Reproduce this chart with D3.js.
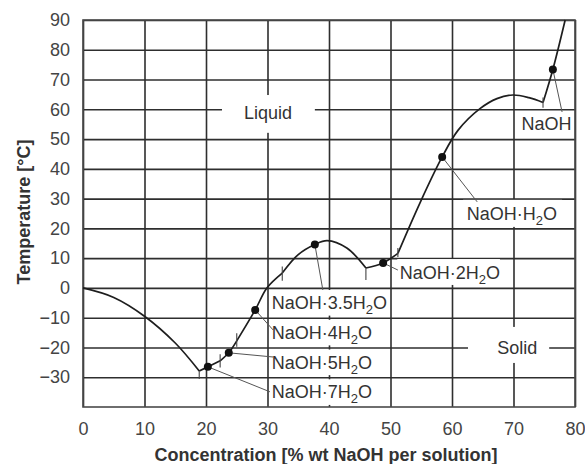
<!DOCTYPE html>
<html>
<head>
<meta charset="utf-8">
<script src="https://cdn.jsdelivr.net/npm/d3@7"></script>
<style>
  body { margin: 0; background: #fff; }
  text { font-family: "Liberation Sans", Arial, sans-serif; }
</style>
</head>
<body>
<svg id="chart" width="585" height="464"></svg>
<script>
// tick labels
const xTicks = [0, 10, 20, 30, 40, 50, 60, 70, 80];
const yTicks = [-30, -20, -10, 0, 10, 20, 30, 40, 50, 60, 70, 80, 90];

// liquidus branches [% NaOH, °C]
const iceBranch = [[0, 0], [5, -3.2], [10, -9.5], [15, -18.5], [18.9, -27.9]];
const hepta = [[18.9, -27.9], [20.3, -26.5], [22.3, -24.5]];
const penta = [[22.3, -24.5], [23.7, -21.8], [25.0, -17.8]];
const tetra = [[25.0, -17.8], [28.0, -7.4], [29.9, 0], [32.4, 5.0]];
const hemi = [[32.4, 5.0], [35.0, 11.2], [37.7, 14.6], [39.7, 15.9], [42.9, 13.4], [46.0, 6.7]];
const di = [[46.0, 6.7], [48.8, 8.4], [51.2, 11.6]];
const mono = [[51.2, 11.6], [54.8, 28.6], [58.4, 44.0], [61.0, 53.0], [64.6, 60.3], [67.3, 63.6], [69.9, 64.8], [72.5, 63.9], [74.8, 62.3]];
const anhydrous = [[74.8, 62.3], [76.4, 73.4], [78.4, 90]];
const branches = [iceBranch, hepta, penta, tetra, hemi, di, mono, anhydrous];

// short transition marks: x, y from, y to
const transitions = [
  [18.9, -27.9, -30.6],
  [22.3, -22.3, -26.7],
  [25.0, -15.2, -19.8],
  [32.4, 2.4, 7.2],
  [46.0, 6.7, 2.7],
  [51.2, 10.4, 13.4],
  [74.8, 60.5, 64.0]
];

// hydrate labels: marker on curve, leader end, label position
const hydrateNames = ["NaOH·7H_2O", "NaOH·5H_2O", "NaOH·4H_2O", "NaOH·3.5H_2O", "NaOH·2H_2O", "NaOH·H_2O", "NaOH"];
const hydrateMarks = [[20.3, -26.5], [23.7, -21.8], [28.0, -7.4], [37.7, 14.6], [48.8, 8.4], [58.4, 44.0], [76.4, 73.4]];
const leaderEnds = [[30.4, -34.9], [30.9, -23.2], [30.9, -14.1], [39.0, -0.7], [51.2, 6.0], [64.1, 28.9], [77.9, 59.1]];
const labelAt = [[30.7, -35], [30.7, -25], [30.7, -15], [30.7, -5], [51.5, 5.2], [62.4, 25], [71.3, 55.3]];
const labelBoxes = [
  [30.4, 49.6, -30.7, -39.3],
  [30.4, 49.6, -20.7, -29.3],
  [30.4, 49.6, -10.7, -19.3],
  [30.4, 49.6, -0.7, -9.3],
  [51.1, 67.8, 9.7, 1.0],
  [61.8, 77.9, 29.6, 20.5],
  null
];

// region labels
const regionNames = ["Liquid", "Solid"];
const regionAt = [[30.1, 58.8], [70.6, -20]];
const regionBoxes = [[22.6, 37.7, 64.8, 52.1], [62.6, 75.8, -13.1, -25.2]];

const svg = d3.select("#chart");
const x = d3.scaleLinear().domain([0, 80]).range([83, 575]);
const y = d3.scaleLinear().domain([-40, 90]).range([407, 20]);
const gridColor = "#2e2e2e";

svg.append("rect").attr("width", 585).attr("height", 464).attr("fill", "#fff");

// grid
const gridY = svg.append("g")
  .attr("transform", `translate(${x(0)},0)`)
  .call(d3.axisLeft(y).tickValues(yTicks).tickSize(-(x(80) - x(0))).tickFormat(""));
gridY.select(".domain").remove();
gridY.selectAll("line").attr("stroke", gridColor).attr("stroke-width", 1.6);

const gridX = svg.append("g")
  .attr("transform", `translate(0,${y(-40)})`)
  .call(d3.axisBottom(x).tickValues(xTicks).tickSize(-(y(-40) - y(90))).tickFormat(""));
gridX.select(".domain").remove();
gridX.selectAll("line").attr("stroke", gridColor).attr("stroke-width", 1.6);

// white patches behind labels
const boxes = labelBoxes.filter(b => b).concat(regionBoxes);
svg.append("g").selectAll("rect")
  .data(boxes)
  .join("rect")
  .attr("x", d => x(d[0]))
  .attr("width", d => x(d[1]) - x(d[0]))
  .attr("y", d => y(d[2]))
  .attr("height", d => y(d[3]) - y(d[2]))
  .attr("fill", "#fff");

// frame
svg.append("rect")
  .attr("x", x(0)).attr("y", y(90))
  .attr("width", x(80) - x(0)).attr("height", y(-40) - y(90))
  .attr("fill", "none").attr("stroke", "#4a4a4a").attr("stroke-width", 1.6);

// axis labels
const axX = svg.append("g")
  .attr("transform", `translate(0,${y(-40)})`)
  .call(d3.axisBottom(x).tickValues(xTicks).tickSize(0).tickPadding(15));
axX.select(".domain").remove();
axX.selectAll("text").attr("font-size", 18).attr("fill", "#444")
  .attr("font-family", "Liberation Sans, Arial, sans-serif");

const axY = svg.append("g")
  .attr("transform", `translate(${x(0)},0)`)
  .call(d3.axisLeft(y).tickValues(yTicks).tickSize(0).tickPadding(13));
axY.select(".domain").remove();
axY.selectAll("text").attr("font-size", 18).attr("fill", "#444")
  .attr("font-family", "Liberation Sans, Arial, sans-serif");

svg.append("text")
  .attr("x", 326).attr("y", 461)
  .attr("text-anchor", "middle")
  .attr("font-size", 18).attr("font-weight", "bold").attr("fill", "#333")
  .text("Concentration [% wt NaOH per solution]");

svg.append("text")
  .attr("transform", "translate(30,212) rotate(-90)")
  .attr("text-anchor", "middle")
  .attr("font-size", 18).attr("font-weight", "bold").attr("fill", "#333")
  .text("Temperature [°C]");

// liquidus
const line = d3.line().x(d => x(d[0])).y(d => y(d[1])).curve(d3.curveCatmullRom.alpha(0.5));
svg.append("g").selectAll("path")
  .data(branches)
  .join("path")
  .attr("d", line)
  .attr("fill", "none").attr("stroke", "#1e1e1e").attr("stroke-width", 1.7)
  .attr("stroke-linejoin", "round");

svg.append("g").selectAll("line")
  .data(transitions)
  .join("line")
  .attr("x1", d => x(d[0])).attr("x2", d => x(d[0]))
  .attr("y1", d => y(d[1])).attr("y2", d => y(d[2]))
  .attr("stroke", "#444").attr("stroke-width", 1.1);

// leaders
svg.append("g").selectAll("line")
  .data(hydrateMarks.map((m, i) => [m, leaderEnds[i]]))
  .join("line")
  .attr("x1", d => x(d[0][0])).attr("y1", d => y(d[0][1]))
  .attr("x2", d => x(d[1][0])).attr("y2", d => y(d[1][1]))
  .attr("stroke", "#555").attr("stroke-width", 1);

svg.append("g").selectAll("circle")
  .data(hydrateMarks)
  .join("circle")
  .attr("cx", d => x(d[0])).attr("cy", d => y(d[1]))
  .attr("r", 4).attr("fill", "#111");

// hydrate labels with subscript
const lab = svg.append("g").selectAll("text")
  .data(hydrateNames.map((n, i) => ({ n, p: labelAt[i] })))
  .join("text")
  .attr("x", d => x(d.p[0])).attr("y", d => y(d.p[1]))
  .attr("dy", "0.35em")
  .attr("font-size", 18).attr("fill", "#333");
lab.each(function (d) {
  const t = d3.select(this);
  const parts = d.n.split("_");
  t.append("tspan").text(parts[0]);
  if (parts.length > 1) {
    t.append("tspan").attr("dy", 5).attr("font-size", 13).text(parts[1][0]);
    t.append("tspan").attr("dy", -5).text(parts[1].slice(1));
  }
});

svg.append("g").selectAll("text")
  .data(regionNames.map((n, i) => ({ n, p: regionAt[i] })))
  .join("text")
  .attr("x", d => x(d.p[0])).attr("y", d => y(d.p[1]))
  .attr("dy", "0.35em").attr("text-anchor", "middle")
  .attr("font-size", 18).attr("fill", "#333")
  .text(d => d.n);
</script>
</body>
</html>
